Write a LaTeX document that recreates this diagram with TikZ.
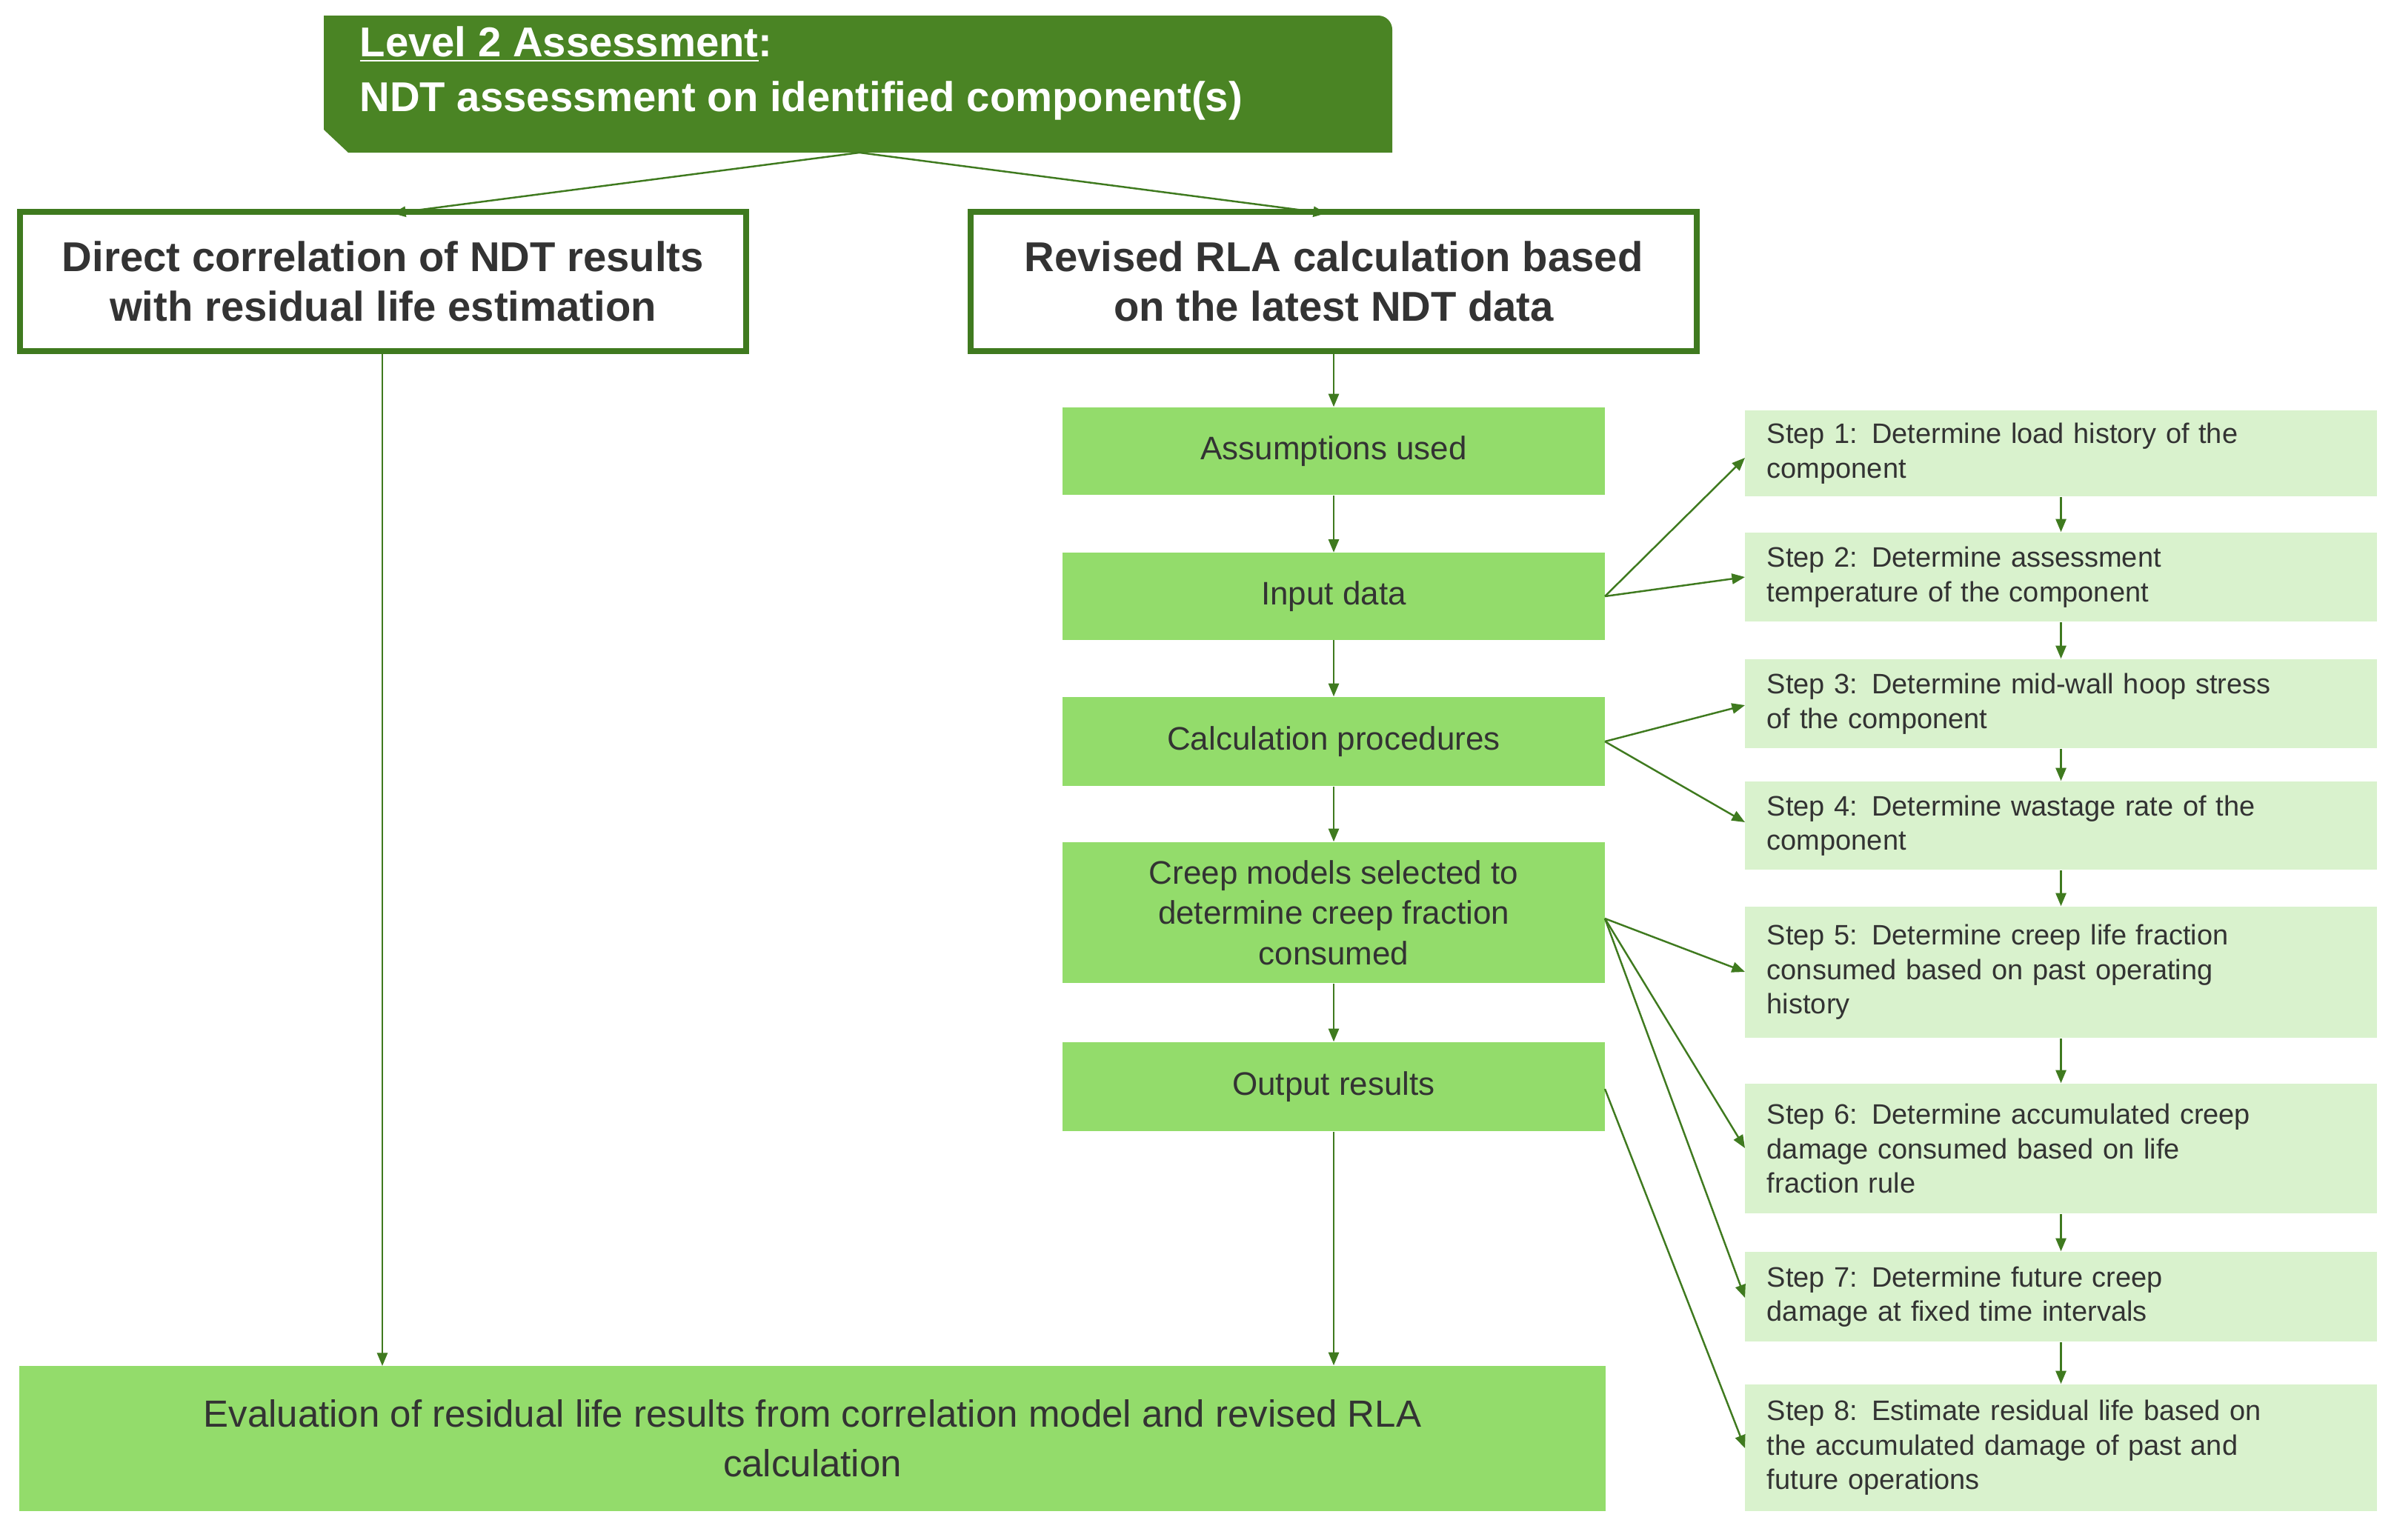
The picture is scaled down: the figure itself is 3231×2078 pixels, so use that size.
\documentclass[tikz,border=0pt]{standalone}
\usepackage{fontspec}
\setmainfont{Liberation Sans}
\usetikzlibrary{arrows.meta}
\definecolor{dg}{HTML}{4A8424}
\definecolor{bd}{HTML}{3F7A1F}
\definecolor{mg}{HTML}{93DC6B}
\definecolor{lg}{HTML}{D9F2CD}
\definecolor{tx}{HTML}{333333}
\begin{document}
\begin{tikzpicture}[x=0.01cm,y=-0.01cm,
 ar/.style={draw=bd,line width=0.7pt,-{Triangle[length=5pt,width=4pt]}},
 wb/.style={draw=bd,line width=2.2pt,fill=white,text=tx,font=\bfseries\fontsize{16}{19}\selectfont,align=center,inner sep=0pt},
 mb/.style={fill=mg,text=tx,font=\fontsize{12.5}{15.5}\selectfont,align=center,inner sep=0pt},
 sb/.style={fill=lg,text=tx,font=\fontsize{10.8}{13.2}\selectfont,align=left,inner xsep=0.3cm,inner ysep=0pt,text width=7.93cm,minimum width=8.53cm}]
\useasboundingbox (0,0) rectangle (3231,2078);
% header
\fill[dg] (437,21) -- (1860,21) to[out=0,in=90] (1879,40) -- (1879,206) -- (470,206) -- (437,175) -- cycle;
\node[anchor=north west,text=white,font=\bfseries\fontsize{16}{21}\selectfont,align=left,inner sep=0pt] (hd) at (485,35) {\underline{Level 2 Assessment}:\\NDT assessment on identified component(s)};
\coordinate (ht) at (1160,206);
\node[wb,minimum width=9.8cm,minimum height=1.88cm] (L) at (517,380) {Direct correlation of NDT results\\with residual life estimation};
\node[wb,minimum width=9.79cm,minimum height=1.88cm] (R) at (1800,380) {Revised RLA calculation based\\on the latest NDT data};
\node[mb,minimum width=7.32cm,minimum height=1.18cm] (a) at (1800,609) {Assumptions used};
\node[mb,minimum width=7.32cm,minimum height=1.17cm] (i) at (1800,805) {Input data};
\node[mb,minimum width=7.32cm,minimum height=1.2cm] (c) at (1800,1001) {Calculation procedures};
\node[mb,minimum width=7.32cm,minimum height=1.9cm] (cr) at (1800,1232) {Creep models selected to\\determine creep fraction\\consumed};
\node[mb,minimum width=7.32cm,minimum height=1.2cm] (o) at (1800,1467) {Output results};
\node[mb,minimum width=21.39cm,minimum height=1.96cm,font=\fontsize{14.5}{19}\selectfont] (bt) at (1096.5,1942) {Evaluation of residual life results from correlation model and revised RLA\\calculation};
% steps
\node[sb,minimum height=1.16cm] (s1) at (2781.5,612) {Step 1: Determine load history of the\\component};
\node[sb,minimum height=1.2cm] (s2) at (2781.5,779) {Step 2: Determine assessment\\temperature of the component};
\node[sb,minimum height=1.2cm] (s3) at (2781.5,950) {Step 3: Determine mid-wall hoop stress\\of the component};
\node[sb,minimum height=1.19cm] (s4) at (2781.5,1114.5) {Step 4: Determine wastage rate of the\\component};
\node[sb,minimum height=1.77cm] (s5) at (2781.5,1312.5) {Step 5: Determine creep life fraction\\consumed based on past operating\\history};
\node[sb,minimum height=1.75cm] (s6) at (2781.5,1550.5) {Step 6: Determine accumulated creep\\damage consumed based on life\\fraction rule};
\node[sb,minimum height=1.21cm] (s7) at (2781.5,1750.5) {Step 7: Determine future creep\\damage at fixed time intervals};
\node[sb,minimum height=1.71cm] (s8) at (2781.5,1954.5) {Step 8: Estimate residual life based on\\the accumulated damage of past and\\future operations};
% connectors
\draw[ar] (ht) -- (530,288);
\draw[ar] (ht) -- (1790,288);
\draw[ar] (516,474) -- (516,1844);
\draw[ar] (R) -- (a);
\draw[ar] (a) -- (i);
\draw[ar] (i) -- (c);
\draw[ar] (c) -- (cr);
\draw[ar] (cr) -- (o);
\draw[ar] (o) -- (bt.north -| o);
\coordinate (ir) at (2166,805);
\coordinate (cc) at (2166,1001);
\coordinate (crr) at (2166,1240);
\coordinate (orr) at (2166,1470);
\draw[ar] (ir) -- (2355,618);
\draw[ar] (ir) -- (2355,779);
\draw[ar] (cc) -- (2355,952);
\draw[ar] (cc) -- (2355,1110);
\draw[ar] (crr) -- (2355,1312);
\draw[ar] (crr) -- (2355,1550);
\draw[ar] (crr) -- (2355,1752);
\draw[ar] (orr) -- (2355,1955);
\foreach \p/\q in {s1/s2,s2/s3,s3/s4,s4/s5,s5/s6,s6/s7,s7/s8} \draw[ar] (\p) -- (\q);
\end{tikzpicture}
\end{document}
